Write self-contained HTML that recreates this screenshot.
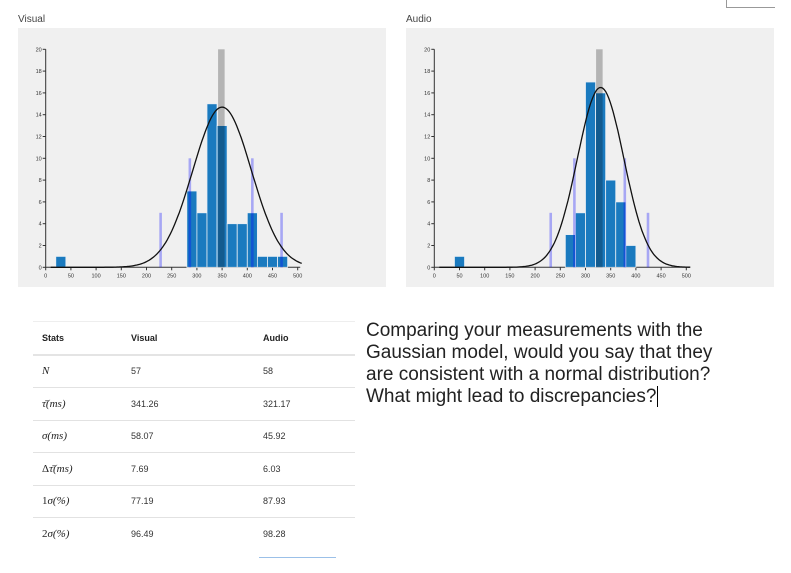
<!DOCTYPE html>
<html><head><meta charset="utf-8">
<style>
body{margin:0;width:791px;height:573px;background:#fff;font-family:"Liberation Sans",Arial,sans-serif;position:relative;overflow:hidden}
.title{position:absolute;font-size:10px;color:#444}
.panel{position:absolute;top:28px;width:368px;height:259px;background:#f0f0f0}
svg text{font-family:"Liberation Sans",Arial,sans-serif}
table{position:absolute;left:33px;top:321px;width:322px;border-collapse:collapse;font-size:9px;color:#333}
td{height:31.5px;border-top:1px solid #e2e2e2;padding:0}
tr.h td{font-weight:bold;color:#222;border-top:1px solid #eee;border-bottom:2px solid #e4e4e4}
td.m{font-family:"Liberation Serif",serif;font-style:italic;font-size:11px;color:#222}
.q{position:absolute;left:366px;top:320px;font-size:19px;line-height:22px;color:#222}
</style></head><body>
<div class="title" style="left:18px;top:14px">Visual</div>
<div class="title" style="left:406px;top:14px">Audio</div>
<div class="panel" style="left:18px"><svg id="c1" width="368" height="259"></svg></div>
<div class="panel" style="left:406px"><svg id="c2" width="368" height="259"></svg></div>

<table>
<tr class="h"><td style="width:89px;padding-left:9px">Stats</td><td style="width:132px">Visual</td><td>Audio</td></tr>
<tr><td class="m" style="padding-left:9px">N</td><td>57</td><td>58</td></tr>
<tr><td class="m" style="padding-left:9px">τ̄(ms)</td><td>341.26</td><td>321.17</td></tr>
<tr><td class="m" style="padding-left:9px">σ(ms)</td><td>58.07</td><td>45.92</td></tr>
<tr><td class="m" style="padding-left:9px"><span style="font-style:normal">Δ</span>τ̄(ms)</td><td>7.69</td><td>6.03</td></tr>
<tr><td class="m" style="padding-left:9px"><span style="font-style:normal">1</span>σ(%)</td><td>77.19</td><td>87.93</td></tr>
<tr><td class="m" style="padding-left:9px"><span style="font-style:normal">2</span>σ(%)</td><td>96.49</td><td>98.28</td></tr>
</table>
<div style="position:absolute;left:259px;top:557px;width:77px;height:1px;background:#9bc0e8"></div>
<div class="q">Comparing your measurements with the<br>Gaussian model, would you say that they<br>are consistent with a normal distribution?<br>What might lead to discrepancies?<span style="border-left:1px solid #000;margin-left:1px"></span></div>
<div style="position:absolute;left:726px;top:0;width:48px;height:7px;border-left:1px solid #999;border-bottom:1px solid #999"></div>

<script>
// Visual data
const visBinStarts=[20,280,300,320,340,360,380,400,420,440,460];
const visCounts=[1,7,5,15,13,4,4,5,1,1,1];
const visMeanMark=[342,20];
const visSigmaPos=[228,286,410,468];
const visSigmaH=[5,10,10,5];
const visCurve=[350,58,14.7];
// Audio data
const audBinStarts=[40,260,280,300,320,340,360,380];
const audCounts=[1,3,5,17,16,8,6,2];
const audMeanMark=[321,20];
const audSigmaPos=[231,278,378,424];
const audSigmaH=[5,10,10,5];
const audCurve=[330,46,16.5];
const xTicks=[0,50,100,150,200,250,300,350,400,450,500];
const yTicks=[0,2,4,6,8,10,12,14,16,18,20];
const binW=20;

const NS='http://www.w3.org/2000/svg';
function mk(svg,tag,a){const e=document.createElementNS(NS,tag);for(const k in a)e.setAttribute(k,a[k]);svg.appendChild(e);return e;}
function draw(id,x0,starts,counts,mean,sp,sh,cv){
  const svg=document.getElementById(id);
  const X=v=>x0+v*0.504, Y=v=>239.3-v*10.9;
  let e=mk(svg,'line',{x1:X(0),x2:X(505),y1:Y(0),y2:Y(0),stroke:'#333','stroke-width':1});
  
  e=mk(svg,'line',{x1:X(0),x2:X(0),y1:Y(0),y2:Y(20),stroke:'#333','stroke-width':1});
  
  xTicks.forEach(t=>{mk(svg,'line',{x1:X(t),x2:X(t),y1:Y(0),y2:Y(0)+3,stroke:'#333'});
    const tx=mk(svg,'text',{x:X(t),y:Y(0)+10,'font-size':5.5,'text-anchor':'middle',fill:'#333'});tx.textContent=t;
    });
  yTicks.forEach(t=>{mk(svg,'line',{x1:X(0)-3,x2:X(0),y1:Y(t),y2:Y(t),stroke:'#333'});
    const tx=mk(svg,'text',{x:X(0)-4,y:Y(t)+2,'font-size':5.5,'text-anchor':'end',fill:'#333'});tx.textContent=t;
    });
  starts.forEach((s,i)=>{const r=mk(svg,'rect',{x:X(s),y:Y(counts[i]),width:X(s+binW)-X(s),height:Y(0)-Y(counts[i]),fill:'#1a7abf',stroke:'#e8eef4','stroke-width':0.8});
    });
  const g=mk(svg,'rect',{x:X(mean[0]),y:Y(mean[1]),width:X(mean[0]+13)-X(mean[0]),height:Y(0)-Y(mean[1]),fill:'rgba(0,0,0,0.25)'});
  
  sp.forEach((p,i)=>{const r=mk(svg,'rect',{x:X(p)-1.3,y:Y(sh[i]),width:2.6,height:Y(0)-Y(sh[i]),fill:'rgba(0,0,255,0.3)'});
    });
  let d='';for(let v=10;v<=510;v+=3){const y=cv[2]*Math.exp(-((v-cv[0])**2)/(2*cv[1]*cv[1]));d+=(v===10?'M':'L')+X(v).toFixed(1)+','+Y(y).toFixed(1);}
  const p=mk(svg,'path',{d:d,fill:'none',stroke:'#111','stroke-width':1.3});
  
}
draw('c1',27.7,visBinStarts,visCounts,visMeanMark,visSigmaPos,visSigmaH,visCurve);
draw('c2',28.3,audBinStarts,audCounts,audMeanMark,audSigmaPos,audSigmaH,audCurve);
</script>
</body></html>
